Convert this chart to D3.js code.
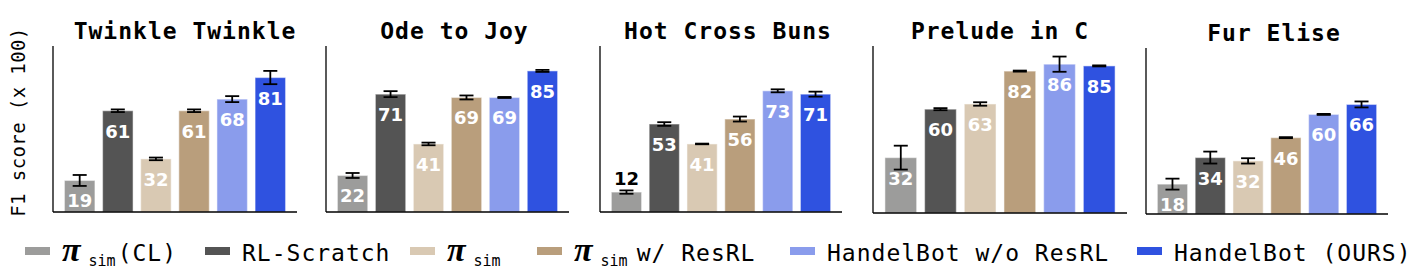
<!DOCTYPE html>
<html>
<head>
<meta charset="utf-8">
<script src="https://cdn.jsdelivr.net/npm/d3@7"></script>
<style>
  body { margin: 0; background: #fff; }
  svg { display: block; }
</style>
</head>
<body>
<svg id="chart"></svg>
<script>
// songs (one panel each)
const songs = ['Twinkle Twinkle', 'Ode to Joy', 'Hot Cross Buns', 'Prelude in C', 'Fur Elise'];

// methods, in bar order
const methods = ['simCL', 'rlScratch', 'sim', 'simResRL', 'hbNoResRL', 'hb'];

// F1 score (x 100), one value per song
const simCL     = [19, 22, 12, 32, 18];
const rlScratch = [61, 71, 53, 60, 34];
const simOnly   = [32, 41, 41, 63, 32];
const simResRL  = [61, 69, 56, 82, 46];
const hbNoResRL = [68, 69, 73, 86, 60];
const hb        = [81, 85, 71, 85, 66];

// error bar half-widths
const simCLErr     = [3.3, 1.5, 1.0, 6.9, 3.3];
const rlScratchErr = [0.8, 1.8, 1.1, 0.6, 3.6];
const simOnlyErr   = [0.8, 0.8, 0.2, 1.0, 1.6];
const simResRLErr  = [0.8, 1.2, 1.5, 0.3, 0.3];
const hbNoResRLErr = [1.8, 0.3, 0.9, 4.4, 0.3];
const hbErr        = [4.0, 0.6, 1.5, 0.3, 1.8];

const values = [simCL, rlScratch, simOnly, simResRL, hbNoResRL, hb];
const errors = [simCLErr, rlScratchErr, simOnlyErr, simResRLErr, hbNoResRLErr, hbErr];

const colors = ['#9c9c9b', '#545454', '#d9c9b3', '#b99e7c', '#8a9cec', '#2f52e0'];

// panel placement (pixels) and y extent
const panels = [
  {left: 53,   right: 297,  top: 46, bottom: 212, yMax: 100,  titleDx: 10},
  {left: 326,  right: 569,  top: 46, bottom: 212, yMax: 100,  titleDx: 7},
  {left: 600,  right: 842,  top: 46, bottom: 212, yMax: 100,  titleDx: 7},
  {left: 873,  right: 1127, top: 46, bottom: 213, yMax: 96.5, titleDx: 0},
  {left: 1146, right: 1388, top: 48, bottom: 214, yMax: 100,  titleDx: 7}
];

const width = 1418, height = 274;
const mono = '"DejaVu Sans Mono", monospace';

const svg = d3.select('#chart')
  .attr('width', width)
  .attr('height', height);

songs.forEach((song, si) => {
  const p = panels[si];
  const g = svg.append('g');

  const x = d3.scaleBand()
    .domain(methods)
    .range([p.left, p.right])
    .paddingInner(0.2)
    .paddingOuter(0.3);

  const y = d3.scaleLinear()
    .domain([0, p.yMax])
    .range([p.bottom, p.top]);

  const rows = methods.map((m, mi) => ({
    key: m, color: colors[mi], v: values[mi][si], e: errors[mi][si]
  }));

  g.selectAll('rect.bar')
    .data(rows)
    .join('rect')
    .attr('class', 'bar')
    .attr('x', d => x(d.key))
    .attr('y', d => y(d.v))
    .attr('width', x.bandwidth())
    .attr('height', d => y(0) - y(d.v))
    .attr('fill', d => d.color)
    .attr('stroke', '#fff')
    .attr('stroke-opacity', 0.45)
    .attr('stroke-width', 1.2);

  // error bars
  const cap = 7;
  const eb = g.selectAll('g.err')
    .data(rows)
    .join('g')
    .attr('class', 'err')
    .attr('stroke', '#000')
    .attr('stroke-width', 1.8);
  eb.append('line')
    .attr('x1', d => x(d.key) + x.bandwidth() / 2)
    .attr('x2', d => x(d.key) + x.bandwidth() / 2)
    .attr('y1', d => y(d.v + d.e))
    .attr('y2', d => y(d.v - d.e));
  eb.append('line')
    .attr('x1', d => x(d.key) + x.bandwidth() / 2 - cap)
    .attr('x2', d => x(d.key) + x.bandwidth() / 2 + cap)
    .attr('y1', d => y(d.v + d.e))
    .attr('y2', d => y(d.v + d.e));
  eb.append('line')
    .attr('x1', d => x(d.key) + x.bandwidth() / 2 - cap)
    .attr('x2', d => x(d.key) + x.bandwidth() / 2 + cap)
    .attr('y1', d => y(d.v - d.e))
    .attr('y2', d => y(d.v - d.e));

  // value labels: inside in white, above in black if the bar is short
  g.selectAll('text.val')
    .data(rows)
    .join('text')
    .attr('class', 'val')
    .attr('x', d => x(d.key) + x.bandwidth() / 2)
    .attr('y', d => d.v < 15 ? y(d.v + d.e) - 5 : y(d.v) + 27)
    .attr('text-anchor', 'middle')
    .attr('font-family', '"DejaVu Sans", sans-serif')
    .attr('font-weight', 'bold')
    .attr('font-size', 18)
    .attr('fill', d => d.v < 15 ? '#000' : '#fff')
    .text(d => d.v);

  // spines
  g.append('line')
    .attr('x1', p.left).attr('x2', p.left)
    .attr('y1', p.top).attr('y2', p.bottom)
    .attr('stroke', '#000').attr('stroke-width', 1.3);
  g.append('line')
    .attr('x1', p.left).attr('x2', p.right)
    .attr('y1', p.bottom).attr('y2', p.bottom)
    .attr('stroke', '#000').attr('stroke-width', 1.3);

  // title
  g.append('text')
    .attr('x', (p.left + p.right) / 2 + p.titleDx)
    .attr('y', p.top - 7)
    .attr('text-anchor', 'middle')
    .attr('font-family', mono)
    .attr('font-weight', 'bold')
    .attr('font-size', 23)
    .attr('letter-spacing', 1)
    .text(song);
});

// y axis label
svg.append('text')
  .attr('transform', 'translate(25,122) rotate(-90)')
  .attr('text-anchor', 'middle')
  .attr('font-family', mono)
  .attr('font-size', 19)
  .attr('letter-spacing', 0.4)
  .text('F1 score (x 100)');

// legend
const legendMain = ['', 'RL-Scratch', '', '', 'HandelBot w/o ResRL', 'HandelBot (OURS)'];
const legendPi   = [true, false, true, true, false, false];
const legendTail = ['(CL)', '', '', 'w/ ResRL', '', ''];
const legendTailDx = [2, 0, 0, 9, 0, 0];
const legendX = [25, 205, 410, 537, 790, 1137];

const legend = svg.append('g');
methods.forEach((m, i) => {
  legend.append('rect')
    .attr('x', legendX[i])
    .attr('y', 247)
    .attr('width', 25)
    .attr('height', 8)
    .attr('fill', colors[i]);

  const t = legend.append('text')
    .attr('x', legendX[i] + 37)
    .attr('y', 261)
    .attr('font-family', mono)
    .attr('font-size', 23)
    .attr('letter-spacing', 1);

  if (legendPi[i]) {
    t.append('tspan')
      .attr('font-family', '"Liberation Serif", serif')
      .attr('font-style', 'italic')
      .attr('font-weight', 'bold')
      .attr('font-size', 34)
      .attr('letter-spacing', 0)
      .text('\u03c0');
    t.append('tspan')
      .attr('font-size', 15)
      .attr('letter-spacing', 0)
      .attr('dx', 8)
      .attr('dy', 5)
      .text('sim');
    if (legendTail[i]) {
      t.append('tspan')
        .attr('dy', -5)
        .attr('dx', legendTailDx[i])
        .text(legendTail[i]);
    }
  } else {
    t.text(legendMain[i]);
  }
});
</script>
</body>
</html>
